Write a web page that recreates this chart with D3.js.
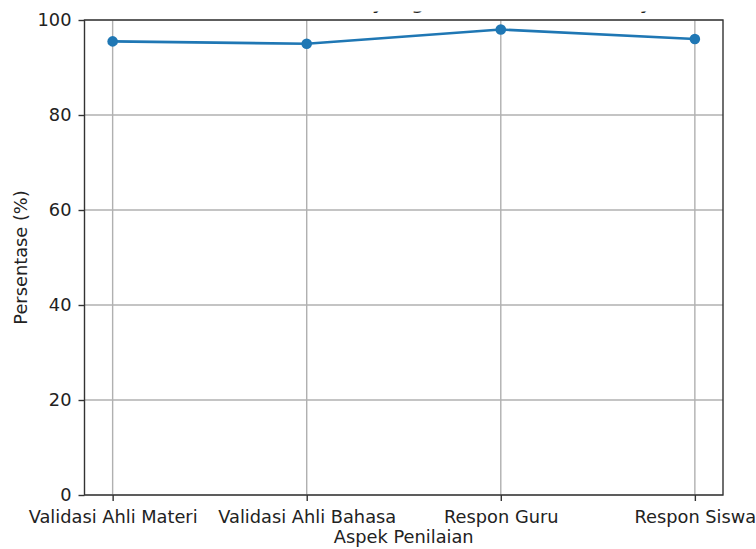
<!DOCTYPE html>
<html>
<head>
<meta charset="utf-8">
<script src="https://cdn.jsdelivr.net/npm/d3@7"></script>
<style>
  html, body { margin: 0; padding: 0; background: #fff; }
  svg text { font-family: "DejaVu Sans", sans-serif; fill: #222; }
</style>
</head>
<body>
<svg id="chart" width="756" height="549"></svg>
<script>
// 데이터
const categories = ["Validasi Ahli Materi", "Validasi Ahli Bahasa", "Respon Guru", "Respon Siswa"];
const values = [95.5, 95, 98, 96];
const yTicks = [0, 20, 40, 60, 80, 100];
const titleText = "Persentase Media yang Dinilai dari Sisi Kelayakan";

const FS = 17.8; // 글자 크기
const svg = d3.select("#chart");
const m = { left: 84.5, right: 723, top: 20, bottom: 495 };

// x: 인덱스 기준, 양쪽 여백 포함
const x = d3.scaleLinear().domain([-0.145, categories.length - 1 + 0.145]).range([m.left, m.right]);
const y = d3.scaleLinear().domain([0, 100]).range([m.bottom, m.top]);

// 그리드
const grid = svg.append("g");
grid.selectAll("line.gx").data(categories).join("line")
  .attr("x1", (d, i) => x(i)).attr("x2", (d, i) => x(i))
  .attr("y1", m.top).attr("y2", m.bottom)
  .attr("stroke", "#b0b0b0").attr("stroke-width", 1.4);
grid.selectAll("line.gy").data(yTicks).join("line")
  .attr("x1", m.left).attr("x2", m.right)
  .attr("y1", d => y(d)).attr("y2", d => y(d))
  .attr("stroke", "#b0b0b0").attr("stroke-width", 1.4);

// 축
const xAxis = svg.append("g")
  .attr("transform", `translate(0,${m.bottom})`)
  .call(d3.axisBottom(x).tickValues(d3.range(categories.length)).tickFormat(i => categories[i]).tickSize(6).tickPadding(9));
const yAxis = svg.append("g")
  .attr("transform", `translate(${m.left},0)`)
  .call(d3.axisLeft(y).tickValues(yTicks).tickSize(6).tickPadding(7));
[xAxis, yAxis].forEach(a => {
  a.select(".domain").remove();
  a.selectAll("line").attr("stroke", "#333").attr("stroke-width", 1.4);
  a.selectAll("text").attr("font-size", FS + "px").attr("fill", "#222");
});

// 테두리
svg.append("rect")
  .attr("x", m.left).attr("y", m.top)
  .attr("width", m.right - m.left).attr("height", m.bottom - m.top)
  .attr("fill", "none").attr("stroke", "#333").attr("stroke-width", 1.4);

// 선 + 마커
const line = d3.line().x((d, i) => x(i)).y(d => y(d));
svg.append("path").datum(values)
  .attr("d", line).attr("fill", "none")
  .attr("stroke", "#1f77b4").attr("stroke-width", 2.6);
svg.selectAll("circle.pt").data(values).join("circle")
  .attr("cx", (d, i) => x(i)).attr("cy", d => y(d)).attr("r", 5.3)
  .attr("fill", "#1f77b4");

// 축 라벨
svg.append("text")
  .attr("x", (m.left + m.right) / 2).attr("y", 543)
  .attr("text-anchor", "middle").attr("font-size", FS + "px")
  .text("Aspek Penilaian");
svg.append("text")
  .attr("transform", `translate(26.5,${(m.top + m.bottom) / 2}) rotate(-90)`)
  .attr("text-anchor", "middle").attr("font-size", FS + "px")
  .text("Persentase (%)");

// 제목: 위쪽이 잘려서 아래 꼬리만 보임
svg.append("clipPath").attr("id", "titleClip")
  .append("rect").attr("x", 0).attr("y", 11.5).attr("width", 756).attr("height", 8);
const title = svg.append("text")
  .attr("clip-path", "url(#titleClip)")
  .attr("x", 0).attr("y", 9)
  .attr("font-size", "21.2px")
  .text(titleText);
// "yang" 의 y 위치를 맞춤
const yi = titleText.indexOf("yang");
const sx = title.node().getStartPositionOfChar(yi).x;
title.attr("x", 372 - sx);
</script>
</body>
</html>
